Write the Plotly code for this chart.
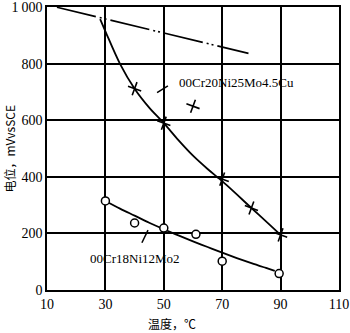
import plotly.graph_objects as go

# Data
cu_curve_x = [28.2, 30, 35, 40, 45, 50, 55, 60, 65, 70, 75, 80, 85, 90]
cu_curve_y = [958, 915, 800, 712, 645, 590, 530, 475, 428, 385, 338, 290, 243, 195]
cu_pts_x = [40, 50, 60, 70, 80, 90]
cu_pts_y = [712, 590, 650, 392, 290, 195]

mo_curve_x = [30, 35, 40, 45, 50, 55, 60, 65, 70, 75, 80, 85, 88]
mo_curve_y = [315, 288, 263, 238, 215, 193, 172, 152, 132, 113, 95, 78, 68]
mo_pts_x = [30, 40, 50, 61, 70, 89.5]
mo_pts_y = [315, 237, 219, 197, 102, 58]

ref_x = [13.4, 79]
ref_y = [1000, 837]

x_ticks = [10, 30, 50, 70, 90, 110]
y_ticks = [0, 200, 400, 600, 800, 1000]
y_tick_text = ["0", "200", "400", "600", "800", "1\u2009000"]

label_cu = "00Cr20Ni25Mo4.5Cu"
label_mo = "00Cr18Ni12Mo2"
x_title = "温度，℃"
y_title = "电位，mVvsSCE"

SERIF = "Liberation Serif"
CJK = "Noto Sans CJK SC"

L, R, T, B = 47, 11, 7, 43
PW, PH = 350 - L - R, 333 - T - B

fig = go.Figure()
fig.add_trace(go.Scatter(x=ref_x, y=ref_y, mode="lines",
                         line=dict(color="black", width=1.6, dash="40px,4px,2px,3px,2px,4px")))
fig.add_trace(go.Scatter(x=cu_curve_x, y=cu_curve_y, mode="lines",
                         line=dict(color="black", width=1.8, shape="spline")))
fig.add_trace(go.Scatter(x=cu_pts_x, y=cu_pts_y, mode="markers",
                         marker=dict(symbol="cross-thin", size=10, angle=20,
                                     line=dict(color="black", width=1.6))))
fig.add_trace(go.Scatter(x=mo_curve_x, y=mo_curve_y, mode="lines",
                         line=dict(color="black", width=1.8, shape="spline")))
fig.add_trace(go.Scatter(x=mo_pts_x, y=mo_pts_y, mode="markers",
                         marker=dict(symbol="circle", size=8, color="white",
                                     line=dict(color="black", width=1.5))))
# leader lines
fig.add_trace(go.Scatter(x=[47.7, 51.4], y=[698, 722], mode="lines",
                         line=dict(color="black", width=1.5)))
fig.add_trace(go.Scatter(x=[42.5, 44.6], y=[167, 212], mode="lines",
                         line=dict(color="black", width=1.5)))

fig.add_annotation(x=54.5, y=733, text=label_cu, showarrow=False, xanchor="left",
                   font=dict(family=SERIF, size=13, color="black"))
fig.add_annotation(x=24, y=113, text=label_mo, showarrow=False, xanchor="left",
                   font=dict(family=SERIF, size=13, color="black"))
# axis titles
fig.add_annotation(xref="paper", yref="paper", x=-38 / PW, y=0.5, text=y_title,
                   textangle=-90, showarrow=False, xanchor="center", yanchor="middle",
                   font=dict(family=CJK, size=12, color="black"))
fig.add_annotation(xref="paper", yref="paper", x=(172 - L) / PW, y=-(333 - T - PH) / PH,
                   text=x_title, showarrow=False, xanchor="center", yanchor="bottom",
                   borderpad=0, font=dict(family=CJK, size=12, color="black"))

axis_common = dict(showgrid=True, gridcolor="black", gridwidth=1.5,
                   showline=True, linecolor="black", linewidth=1.6, mirror=True,
                   ticks="", zeroline=False, automargin=False,
                   tickfont=dict(family=SERIF, size=14, color="black"))

fig.update_xaxes(range=[10, 110], tickvals=x_ticks, **axis_common)
fig.update_yaxes(range=[0, 1001], tickvals=y_ticks, ticktext=y_tick_text, **axis_common)

fig.update_layout(width=350, height=333, showlegend=False,
                  margin=dict(l=L, r=R, t=T, b=B),
                  plot_bgcolor="white", paper_bgcolor="white")

fig.write_html("out.html")
